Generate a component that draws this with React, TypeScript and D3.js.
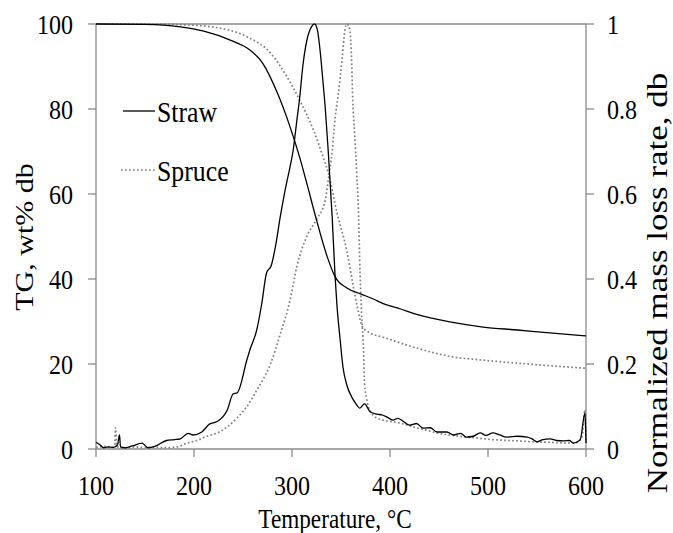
import React from "react";
import * as d3 from "d3";

// Thermogravimetric curves (wt% db) and normalized mass loss rate for two fuels
const strawTgTemp = [100, 150, 186, 210, 237, 257, 270, 285, 298, 308, 315, 325, 336, 344, 356, 370, 383, 393, 410, 428, 461, 495, 530, 563, 600];
const strawTg = [100, 99.9, 99.3, 98.3, 96.2, 93.9, 90.8, 83.8, 75.8, 68.5, 62.6, 53.9, 45.2, 40.5, 37.9, 36.5, 35.3, 34.2, 33.0, 31.6, 29.9, 28.7, 28.0, 27.3, 26.6];

const spruceTgTemp = [100, 150, 200, 219, 254, 278, 295, 308, 322, 332, 337, 346, 356, 362, 367, 372, 380, 393, 428, 461, 495, 530, 563, 600];
const spruceTg = [100, 100, 99.7, 99.3, 97, 93.2, 87.5, 82, 75, 68.5, 65, 55.5, 46.5, 39, 33, 28.7, 27.3, 26.3, 23.7, 21.8, 20.9, 20.2, 19.6, 19];

const strawRateTemp = [100, 104, 108, 112, 118, 122, 124, 125, 130, 138, 147, 153, 160, 172, 180, 186, 194, 199, 208, 216, 223, 234, 240, 244, 254, 257, 264, 269, 274, 279, 283, 288, 293, 298, 301, 305, 308, 311, 315, 320, 323, 326, 329, 331, 334, 337, 341, 344, 346, 349, 352, 356, 361, 366, 369, 374, 380, 387, 392, 397, 403, 408, 413, 420, 427, 434, 441, 448, 458, 465, 472, 478, 485, 492, 498, 505, 512, 519, 530, 540, 545, 550, 556, 563, 570, 577, 583, 587, 594, 599, 600];
const strawRate = [0.016, 0.01, 0.003, 0.005, 0.004, 0.01, 0.033, 0.005, 0.003, 0.008, 0.014, 0.003, 0.006, 0.02, 0.022, 0.024, 0.037, 0.033, 0.04, 0.059, 0.064, 0.092, 0.13, 0.132, 0.21, 0.233, 0.28, 0.34, 0.414, 0.433, 0.475, 0.546, 0.609, 0.664, 0.7, 0.774, 0.83, 0.9, 0.96, 0.994, 1.0, 0.985, 0.93, 0.88, 0.8, 0.7, 0.546, 0.405, 0.334, 0.26, 0.193, 0.15, 0.122, 0.104, 0.096, 0.106, 0.087, 0.082, 0.08, 0.075, 0.068, 0.072, 0.066, 0.056, 0.06, 0.049, 0.05, 0.04, 0.04, 0.033, 0.037, 0.028, 0.03, 0.038, 0.032, 0.038, 0.033, 0.028, 0.03, 0.028, 0.024, 0.017, 0.022, 0.024, 0.02, 0.019, 0.02, 0.014, 0.021, 0.085, 0.014];

const spruceRateTemp = [100, 110, 116, 119, 120, 121, 124, 130, 140, 150, 160, 170, 183, 193, 203, 213, 223, 234, 244, 254, 264, 278, 288, 298, 305, 315, 325, 334, 337, 341, 344, 347, 351, 354, 356, 359, 361, 362, 364, 366, 368, 369, 371, 373, 374, 376, 378, 385, 393, 400, 410, 420, 428, 436, 444, 452, 461, 470, 478, 488, 500, 512, 530, 546, 560, 581, 590, 596, 599, 600];
const spruceRate = [0.004, 0.006, 0.003, 0.01, 0.05, 0.008, 0.003, 0.002, 0.005, 0.003, 0.004, 0.003, 0.005, 0.014, 0.02, 0.03, 0.037, 0.052, 0.073, 0.1, 0.138, 0.2, 0.27, 0.35, 0.43, 0.5, 0.54, 0.586, 0.633, 0.7, 0.78, 0.83, 0.915, 0.986, 1.0, 0.986, 0.9, 0.82, 0.74, 0.65, 0.546, 0.45, 0.32, 0.233, 0.155, 0.12, 0.099, 0.075, 0.068, 0.065, 0.061, 0.055, 0.049, 0.045, 0.04, 0.036, 0.033, 0.03, 0.028, 0.026, 0.023, 0.021, 0.019, 0.017, 0.016, 0.014, 0.015, 0.03, 0.092, 0.02];

const xTicks = [100, 200, 300, 400, 500, 600];
const tgTicks = [0, 20, 40, 60, 80, 100];
const rateTicks = [0, 0.2, 0.4, 0.6, 0.8, 1];
const rateTickLabels = ["0", "0.2", "0.4", "0.6", "0.8", "1"];

const legendNames = ["Straw", "Spruce"];

const W = 673;
const H = 533;
const left = 96;
const right = 586;
const top = 24;
const bottom = 449;

const FONT = "Liberation Serif, Times New Roman, serif";
const AXIS = "#8a8a8a";
const SQ = 0.86; // horizontal condensing of the serif labels

export default function App() {
  const x = d3.scaleLinear().domain([100, 600]).range([left, right]);
  const yTg = d3.scaleLinear().domain([0, 100]).range([bottom, top]);
  const yRate = d3.scaleLinear().domain([0, 1]).range([bottom, top]);

  const mk = (ts: number[], vs: number[], y: d3.ScaleLinear<number, number>) =>
    d3
      .line<number>()
      .x((_, i) => x(ts[i]))
      .y((v) => y(v))
      .curve(d3.curveMonotoneX)(vs) as string;

  const solid = { fill: "none", stroke: "#000", strokeWidth: 1.3 };
  const dotted = { fill: "none", stroke: "#7f7f7f", strokeWidth: 1.7, strokeDasharray: "1.7,2.3" };

  const hText = (
    key: string,
    tx: number,
    ty: number,
    s: string,
    size: number,
    anchor: "start" | "middle" | "end"
  ) => (
    <text
      key={key}
      transform={`translate(${tx},${ty}) scale(${SQ},1)`}
      textAnchor={anchor}
      fontFamily={FONT}
      fontSize={size}
      fill="#000"
    >
      {s}
    </text>
  );

  return (
    <svg
      width={W}
      height={H}
      style={{ position: "absolute", left: 0, top: 0, background: "#fff" }}
    >
      <rect x={0} y={0} width={W} height={H} fill="#fff" />

      {/* frame lines */}
      <line x1={left} x2={right} y1={top} y2={top} stroke={AXIS} strokeWidth={1.3} />
      <line x1={left} x2={right} y1={bottom} y2={bottom} stroke={AXIS} strokeWidth={1.3} />
      <line x1={left} x2={left} y1={top} y2={bottom} stroke={AXIS} strokeWidth={1.3} />
      <line x1={right} x2={right} y1={top} y2={bottom} stroke={AXIS} strokeWidth={1.3} />

      {/* x ticks */}
      {xTicks.map((t) => (
        <g key={`xt${t}`}>
          <line x1={x(t)} x2={x(t)} y1={bottom} y2={bottom + 8} stroke={AXIS} strokeWidth={1.3} />
          {hText(`xl${t}`, x(t), 495, String(t), 28, "middle")}
        </g>
      ))}

      {/* left ticks */}
      {tgTicks.map((t) => (
        <g key={`lt${t}`}>
          <line x1={left - 8} x2={left} y1={yTg(t)} y2={yTg(t)} stroke={AXIS} strokeWidth={1.3} />
          {hText(`ll${t}`, 73, yTg(t) + 9.5, String(t), 28, "end")}
        </g>
      ))}

      {/* right ticks */}
      {rateTicks.map((t, i) => (
        <g key={`rt${t}`}>
          <line x1={right} x2={right + 8} y1={yRate(t)} y2={yRate(t)} stroke={AXIS} strokeWidth={1.3} />
          {hText(`rl${t}`, 607, yRate(t) + 9.5, rateTickLabels[i], 28, "start")}
        </g>
      ))}

      {/* series */}
      <path d={mk(spruceRateTemp, spruceRate, yRate)} {...dotted} />
      <path d={mk(spruceTgTemp, spruceTg, yTg)} {...dotted} />
      <path d={mk(strawRateTemp, strawRate, yRate)} {...solid} />
      <path d={mk(strawTgTemp, strawTg, yTg)} {...solid} />

      {/* legend */}
      <line x1={123} x2={155} y1={111} y2={111} {...solid} />
      {hText("lg0", 157, 122, legendNames[0], 30, "start")}
      <line x1={121} x2={155} y1={170} y2={170} {...dotted} />
      {hText("lg1", 157, 181, legendNames[1], 30, "start")}

      {/* axis titles */}
      {hText("xtitle", 335, 528, "Temperature, \u00B0C", 27, "middle")}
      <text
        transform={`translate(33,237) rotate(-90) scale(1,${SQ})`}
        textAnchor="middle"
        fontFamily={FONT}
        fontSize={30}
        fill="#000"
      >
        TG, wt% db
      </text>
      <text
        transform={`translate(667,283) rotate(-90) scale(1,${SQ})`}
        textAnchor="middle"
        fontFamily={FONT}
        fontSize={35}
        fill="#000"
      >
        Normalized mass loss rate, db
      </text>
    </svg>
  );
}
